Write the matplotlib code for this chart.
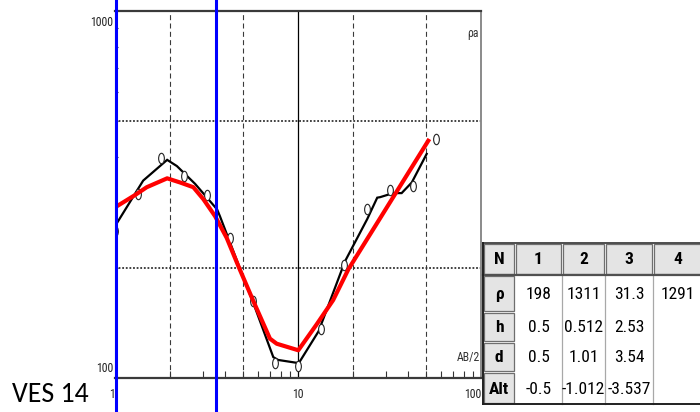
import matplotlib
matplotlib.use('Agg')
import matplotlib.pyplot as plt
from matplotlib import font_manager
from matplotlib.path import Path
from matplotlib.transforms import Affine2D, ScaledTranslation
from matplotlib.patches import Rectangle
from matplotlib.lines import Line2D
from matplotlib.ticker import FixedLocator, NullFormatter

# ---------------- data ----------------
ab2_obs = [1.0, 1.33, 1.78, 2.37, 3.16, 4.22, 5.62, 7.5, 10.0, 13.3, 17.8, 23.7, 31.6, 42.2, 56.2]
rho_obs = [251, 317, 397, 356, 315, 241, 162, 110, 108, 136, 203, 288, 325, 333, 448]

ab2_smooth = [1.0, 1.42, 1.92, 2.17, 2.73, 3.6, 3.73, 4.91, 5.68, 7.3, 7.75, 9.8, 10.2,
              12.9, 14.9, 18.0, 23.8, 27.0, 28.0, 33.0, 36.7, 41.7, 50.3]
rho_smooth = [260, 345, 393, 378, 338, 288, 276, 193, 160, 114, 112, 110, 111,
              134, 162, 208, 271, 310, 311, 319, 319, 341, 408]

ab2_model = [1.0, 1.28, 1.485, 1.92, 2.26, 2.67, 3.03, 3.51, 4.06, 4.70, 5.68, 7.0, 7.62,
             10.0, 12.6, 15.5, 18.8, 51.3]
rho_model = [292, 315, 331, 350, 341, 331, 307, 276, 241, 202, 162, 128, 124,
             119, 140, 163, 198, 443]

layer_depth = [0.5, 1.01, 3.54]

x_ticks = [1, 10, 100]
x_ticklabels = ['1', '10', '100']
y_ticks = [100, 1000]
y_ticklabels = ['100', '1000']
x_grid_dashed = [2, 5, 20, 50]
x_grid_solid = [10]
y_grid_dotted = [200, 500]

tbl_cols = ['N', '1', '2', '3', '4']
tbl_rows = ['\u03c1', 'h', 'd', 'Alt']
tbl_rho = ['198', '1311', '31.3', '1291']
tbl_h = ['0.5', '0.512', '2.53', '']
tbl_d = ['0.5', '1.01', '3.54', '']
tbl_alt = ['-0.5', '-1.012', '-3.537', '']

title_text = 'VES 14'

# ---------------- fonts ----------------
avail = {f.name for f in font_manager.fontManager.ttflist}
def pick(*names):
    for n in names:
        if n in avail:
            return n
    return 'DejaVu Sans'
narrow = pick('Liberation Sans Narrow', 'Roboto Condensed', 'Arial Narrow', 'Liberation Sans')
calib = pick('Carlito', 'Calibri', 'Lato', 'Open Sans')

W, H = 700, 412
fig = plt.figure(figsize=(W / 100, H / 100), dpi=100)

def fx(px):
    return px / W
def fy(py):
    return 1 - py / H

ax_l, ax_r, ax_t, ax_b = 115.3, 481.3, 11.0, 378.0
ax = fig.add_axes([fx(ax_l), fy(ax_b), (ax_r - ax_l) / W, (ax_b - ax_t) / H])
ax.set_xscale('log')
ax.set_yscale('log')
ax.set_xlim(1, 100)
ax.set_ylim(100, 1000)

# grid
for xv in x_grid_dashed:
    ax.axvline(xv, color='#3a3a3a', lw=0.8, ls=(0, (4.5, 3.0)), zorder=1)
for xv in x_grid_solid:
    ax.axvline(xv, color='black', lw=0.9, zorder=1)
for yv in y_grid_dotted:
    ax.axhline(yv, color='#333333', lw=1.3, ls=(0, (1.0, 1.0)), zorder=1)

# spines
ax.spines['top'].set_color('#3a3a3a')
ax.spines['top'].set_linewidth(1.6)
ax.spines['bottom'].set_color('#3a3a3a')
ax.spines['bottom'].set_linewidth(1.6)
ax.spines['right'].set_color('#8a8a8a')
ax.spines['right'].set_linewidth(1.4)
ax.spines['left'].set_color('#8a8a8a')

# ticks
ax.xaxis.set_major_locator(FixedLocator(x_ticks))
ax.set_xticklabels(x_ticklabels)
ax.xaxis.set_minor_locator(FixedLocator([2, 3, 4, 5, 6, 7, 8, 9, 20, 30, 40, 50, 60, 70, 80, 90]))
ax.xaxis.set_minor_formatter(NullFormatter())
ax.tick_params(axis='x', which='major', length=0, pad=7, labelsize=8.5, labelcolor='#222222')
ax.tick_params(axis='x', which='minor', direction='in', length=5, width=0.8, color='#333333')
for lab in ax.get_xticklabels():
    lab.set_fontfamily(narrow)
ax.get_xticklabels()[0].set_ha('right')
ax.get_xticklabels()[-1].set_ha('right')

ax.yaxis.set_major_locator(FixedLocator(y_ticks))
ax.set_yticklabels([])
ax.yaxis.set_minor_locator(FixedLocator([200, 300, 400, 500, 600, 700, 800, 900]))
ax.yaxis.set_minor_formatter(NullFormatter())
ax.tick_params(axis='y', which='major', length=0)
ax.tick_params(axis='y', which='minor', direction='in', length=2.5, width=0.8, color='#333333')
ytrans = ax.get_yaxis_transform()
ax.text(0, y_ticks[1], y_ticklabels[1], transform=ytrans + ScaledTranslation(-0.02, -0.11, fig.dpi_scale_trans),
        ha='right', va='center', fontsize=8.5, family=narrow, color='#222222')
ax.text(0, y_ticks[0], y_ticklabels[0], transform=ytrans + ScaledTranslation(-0.02, 0.09, fig.dpi_scale_trans),
        ha='right', va='center', fontsize=8.5, family=narrow, color='#222222')

# curves
oval = Path.unit_circle().transformed(Affine2D().scale(0.55, 1.0))
ax.plot(ab2_smooth, rho_smooth, color='black', lw=1.6, zorder=3, solid_joinstyle='miter')
ax.plot(ab2_obs, rho_obs, ls='none', marker=oval, markersize=7.5, markerfacecolor='white',
        markeredgecolor='#222222', markeredgewidth=0.8, zorder=4)
ax.plot(ab2_model, rho_model, color='#ff0000', lw=3.0, zorder=5)

# layer boundary lines
for dv in layer_depth:
    if 1 <= dv <= 100:
        ax.axvline(dv, ymin=-0.1, ymax=1.04, color='#0000ff', lw=2.2, zorder=6, clip_on=False)

# labels inside axes
ax.text(0.992, 0.94, '\u03c1a', transform=ax.transAxes, ha='right', va='center',
        fontsize=8.5, family=narrow, color='#333333')
ax.text(0.997, 0.055, 'AB/2', transform=ax.transAxes, ha='right', va='center',
        fontsize=8.5, family=narrow, color='#333333')

fig.text(fx(12), fy(395), title_text, ha='left', va='center', fontsize=20, family=calib, color='black')

# ---------------- table ----------------
col_x = [483, 515, 562, 605, 653, 702]
row_y = [243, 275, 312, 342, 372, 404]
gray = '#e4e4e4'
cell_rows = [tbl_rho, tbl_h, tbl_d, tbl_alt]

def rect(x0, y0, x1, y1, fc, ec, lw):
    r = Rectangle((fx(x0), fy(y1)), (x1 - x0) / W, (y1 - y0) / H, transform=fig.transFigure,
                  facecolor=fc, edgecolor=ec, lw=lw, clip_on=False, zorder=10)
    fig.add_artist(r)

def line(xs, ys, c, lw):
    fig.add_artist(Line2D([fx(v) for v in xs], [fy(v) for v in ys], transform=fig.transFigure,
                          color=c, lw=lw, zorder=12, clip_on=False))

rect(col_x[0], row_y[0], col_x[-1], row_y[-1], 'white', 'none', 0)
for j in range(len(tbl_cols)):
    rect(col_x[j] + 1, row_y[0] + 1, col_x[j + 1] - 1, row_y[1] - 1, gray, '#6e6e6e', 0.9)
    fig.text(fx((col_x[j] + col_x[j + 1]) / 2), fy((row_y[0] + row_y[1]) / 2 + 1), tbl_cols[j],
             ha='center', va='center', fontsize=12.5, family=narrow, weight='bold', zorder=13)
for i in range(len(tbl_rows)):
    rect(col_x[0] + 1, row_y[i + 1] + 1, col_x[1] - 1, row_y[i + 2] - 1, gray, '#6e6e6e', 0.9)
    fig.text(fx((col_x[0] + col_x[1]) / 2), fy((row_y[i + 1] + row_y[i + 2]) / 2 + 1), tbl_rows[i],
             ha='center', va='center', fontsize=12.5, family=narrow, weight='bold', zorder=13)
for i, rowvals in enumerate(cell_rows):
    for j, v in enumerate(rowvals):
        fig.text(fx((col_x[j + 1] + col_x[j + 2]) / 2), fy((row_y[i + 1] + row_y[i + 2]) / 2 + 1), v,
                 ha='center', va='center', fontsize=12.5, family=narrow, zorder=13)
for xv in col_x[2:-1]:
    line([xv, xv], [row_y[1], row_y[-1]], '#a8a8a8', 0.9)
line([col_x[0], col_x[-1]], [row_y[1], row_y[1]], '#505050', 1.6)
line([col_x[0], col_x[-1]], [row_y[0], row_y[0]], '#303030', 1.2)
line([col_x[0], col_x[0]], [row_y[0], row_y[-1]], '#202020', 1.4)
line([col_x[0], col_x[-1]], [row_y[-1], row_y[-1]], '#202020', 1.4)

fig.savefig('out.png', dpi=100)
